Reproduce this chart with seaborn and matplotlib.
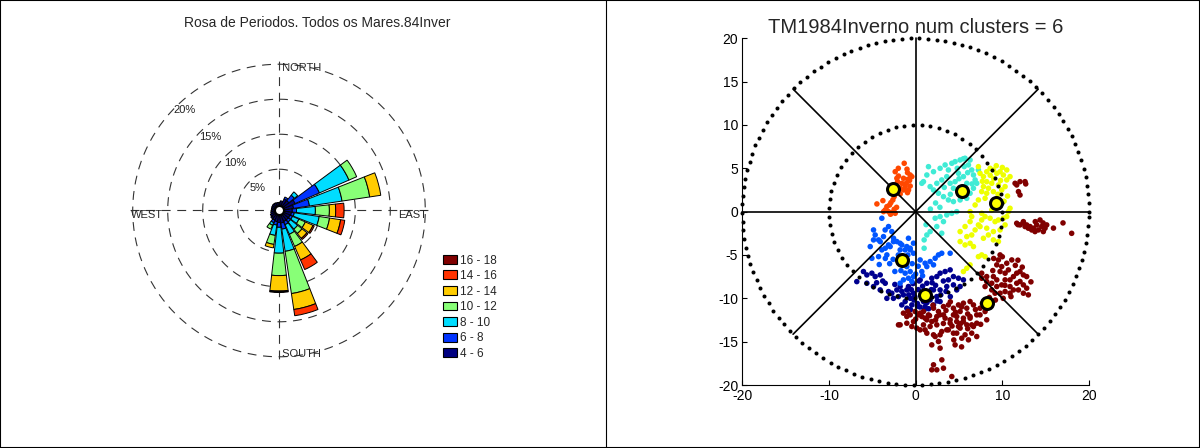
import numpy as np
import pandas as pd
import matplotlib
matplotlib.use("Agg")
import matplotlib.pyplot as plt
from matplotlib.patches import Patch, Rectangle
from matplotlib.lines import Line2D
import seaborn as sns

# ---------------- wind rose: % of records per 15 deg sector ----------------
directions = np.arange(0, 360, 15)
speed_labels = ["4 - 6", "6 - 8", "8 - 10", "10 - 12", "12 - 14", "14 - 16", "16 - 18"]
speed_colors = ["#000080", "#0033FF", "#00DDFF", "#88FF77", "#FFCC00", "#FF3300", "#800000"]

freq_4_6 = [0.25, 0.5, 0.9, 0.9, 1.6, 1.2, 1.0, 0.9, 0.8, 0.8, 0.8, 0.9,
            0.8, 0.7, 0.6, 0.4, 0.45, 0.3, 0.2, 0.2, 0.25, 0.3, 0.3, 0.25]
freq_6_8 = [0, 0, 0.3, 1.0, 3.8, 2.3, 0.6, 0.4, 0.4, 0.4, 0.5, 0.9,
            0.7, 0.5, 0.4, 0.2, 0, 0, 0, 0, 0, 0, 0, 0]
freq_8_10 = [0, 0, 0, 0.6, 4.6, 4.7, 2.7, 3.6, 1.0, 1.3, 1.5, 3.2,
             3.7, 1.5, 0.4, 0, 0, 0, 0, 0, 0, 0, 0, 0]
freq_10_12 = [0, 0, 0, 0, 1.2, 4.0, 2.0, 1.5, 1.0, 0.8, 1.9, 6.1,
              3.2, 1.3, 0.6, 0, 0, 0, 0, 0, 0, 0, 0, 0]
freq_12_14 = [0, 0, 0, 0, 0, 1.6, 0.9, 1.6, 1.2, 0.9, 2.1, 2.3,
              2.2, 0.5, 0, 0, 0, 0, 0, 0, 0, 0, 0, 0]
freq_14_16 = [0, 0, 0, 0, 0, 0, 1.2, 0.6, 0.2, 0.2, 1.5, 0.9,
              0.1, 0, 0, 0, 0, 0, 0, 0, 0, 0, 0, 0]
freq_16_18 = [0, 0, 0, 0, 0, 0, 0, 0, 0, 0, 0, 0,
              0.1, 0, 0, 0, 0, 0, 0, 0, 0, 0, 0, 0]
speed_freqs = [freq_4_6, freq_6_8, freq_8_10, freq_10_12, freq_12_14, freq_14_16, freq_16_18]
rings = [5, 10, 15, 20]

# ---------------- cluster scatter (x, y) ----------------
pts_orange = [(-1.32, 5.58), (-0.94, 4.50), (-0.63, 4.23), (-0.44, 4.04), (-0.90, 3.73),
              (-1.40, 3.85), (-1.98, 4.11), (-2.36, 4.61), (-2.09, 3.46), (-1.59, 3.27),
              (-1.09, 3.27), (-0.63, 2.96), (-0.94, 2.19), (-1.40, 2.50), (-1.78, 2.70),
              (-2.48, 1.73), (-2.63, 1.35), (-2.86, 1.04), (-3.01, 0.77), (-3.32, 0.58),
              (-3.51, 0.20), (-3.13, 0.00), (-2.75, -0.11), (-2.36, -0.19), (-2.48, 0.27),
              (-4.47, 0.89), (-3.78, 1.27), (-2.36, 2.12), (-2.17, 3.85), (-1.21, 2.89),
              (-0.82, 2.50), (-1.78, 2.04), (-2.00, 5.00), (-1.00, 4.90), (-0.70, 3.60),
              (-2.90, -0.30), (-2.20, 0.50), (-3.70, 0.00)]
pts_cyan = [(1.48, 5.19), (1.29, 4.23), (0.90, 3.46), (0.71, 3.27), (2.06, 4.61),
            (2.82, 5.00), (3.40, 5.39), (4.17, 5.58), (4.55, 5.77), (5.13, 5.96),
            (5.70, 6.16), (6.28, 5.96), (6.09, 5.39), (6.47, 4.81), (6.67, 4.23),
            (6.86, 3.66), (7.05, 3.27), (6.67, 2.70), (6.28, 2.12), (5.90, 1.54),
            (5.13, 1.35), (4.36, 1.16), (3.78, 1.35), (3.21, 1.73), (2.63, 2.12),
            (2.06, 2.50), (1.67, 2.89), (2.44, 3.27), (3.01, 3.66), (3.59, 4.04),
            (3.98, 3.27), (4.36, 2.70), (2.25, -0.76), (2.82, -0.57), (3.59, -0.38),
            (4.17, -0.19), (4.74, 0.00), (3.21, -1.15), (1.67, -2.30), (1.29, -2.69),
            (3.01, -2.49), (2.44, -1.72), (4.55, 3.46), (5.51, 4.04), (5.90, 3.27),
            (4.94, 4.42), (3.78, 4.81), (7.24, 4.81), (5.51, 2.50), (5.13, 1.92),
            (0.98, -4.22), (0.98, -3.26), (1.20, -1.50), (1.70, 0.30), (2.30, 1.00),
            (5.50, 6.10), (4.80, 5.00), (5.60, 5.20), (6.00, 4.50), (5.00, 3.80),
            (3.30, 2.80), (4.00, 2.00), (6.50, 3.20), (2.80, 0.50)]
pts_yellow = [(7.24, 5.19), (7.43, 4.42), (7.82, 4.04), (8.20, 4.61), (8.59, 5.00),
              (8.97, 4.81), (9.36, 4.42), (9.74, 4.61), (10.12, 4.23), (10.51, 3.66),
              (10.32, 2.89), (9.93, 2.50), (9.55, 3.08), (8.78, 3.27), (8.20, 3.46),
              (7.82, 2.89), (7.62, 2.31), (8.20, 2.12), (8.97, 2.31), (8.01, 1.54),
              (7.24, 1.35), (6.86, 0.77), (6.28, 0.00), (6.47, -0.57), (6.28, -1.15),
              (5.70, -1.72), (5.13, -2.30), (5.90, -2.88), (6.47, -2.69), (6.86, -2.11),
              (7.24, -1.53), (7.62, -0.96), (8.01, -0.57), (8.59, -0.76), (9.16, -1.15),
              (9.55, -0.96), (10.12, -0.76), (10.51, -0.57), (10.70, 0.00), (10.89, 0.39),
              (10.32, -1.53), (9.74, -2.11), (8.97, -2.30), (8.39, -2.69), (7.82, -3.07),
              (7.43, -1.72), (8.20, -1.91), (8.78, 0.20), (7.62, -0.19), (10.89, 4.04),
              (10.51, 4.81), (5.13, -3.45), (5.70, -3.84), (6.28, -3.65), (6.67, -4.03),
              (7.62, -4.99), (8.01, -5.19), (7.24, -5.19), (5.51, -6.91), (5.90, -6.53),
              (6.28, -6.14), (9.55, -3.45), (8.97, -3.26), (9.00, 3.80), (9.80, 3.60),
              (8.60, 4.20), (10.00, 5.10), (9.30, 5.30), (8.40, 2.70), (9.50, 2.00),
              (7.70, 3.50), (10.60, 1.80), (10.20, 1.20)]
pts_darkred = [(11.47, 3.27), (11.66, 3.08), (12.04, 3.46), (12.62, 3.46), (11.86, 2.31),
               (12.04, 1.92), (12.70, 3.20),
               (11.66, -1.34), (12.04, -1.53), (12.43, -1.15), (12.81, -1.53), (13.20, -1.72),
               (13.58, -1.91), (13.97, -1.53), (14.35, -0.96), (14.54, -1.72), (14.93, -1.91),
               (15.12, -1.53), (13.77, -2.30), (13.39, -2.11), (13.00, -1.91), (12.62, -1.72),
               (14.16, -2.11), (14.73, -2.30), (17.00, -1.30), (18.00, -2.50), (15.90, -1.90),
               (14.70, -1.30), (13.80, -1.15), (12.40, -1.30), (11.80, -1.50),
               (9.74, -4.99), (9.55, -5.57), (9.36, -6.14), (9.93, -6.34), (10.51, -5.95),
               (11.09, -5.57), (10.70, -6.72), (10.32, -7.10), (9.74, -6.91), (8.97, -7.49),
               (8.20, -7.49), (7.62, -7.68), (8.20, -8.06), (8.78, -8.26), (9.36, -8.64),
               (9.93, -8.45), (10.32, -7.87), (10.89, -7.87), (11.28, -7.49), (11.66, -7.10),
               (12.04, -6.91), (12.43, -7.30), (12.81, -7.49), (12.04, -8.06), (12.43, -8.45),
               (12.81, -8.83), (13.00, -9.60), (12.43, -9.41), (11.86, -9.03), (11.28, -9.03),
               (10.89, -9.41), (10.32, -9.22), (9.74, -9.41), (9.16, -9.41), (8.78, -9.03),
               (8.01, -8.64), (7.62, -7.10), (9.36, -7.87), (10.89, -8.64), (11.66, -8.26),
               (0.90, -11.52), (1.48, -11.91), (2.06, -11.14), (2.63, -11.52), (3.21, -10.95),
               (3.78, -10.76), (4.36, -11.14), (4.94, -10.76), (5.51, -10.56), (6.28, -10.37),
               (4.36, -11.91), (5.13, -11.52), (5.90, -11.14), (6.67, -10.76), (3.40, -12.29),
               (3.98, -12.87), (4.74, -12.68), (5.51, -12.29), (6.28, -12.10), (7.05, -11.91),
               (7.43, -11.14), (8.01, -11.52), (1.67, -13.25), (2.44, -13.06), (3.01, -13.83),
               (3.78, -13.64), (5.13, -13.44), (5.90, -13.06), (6.67, -13.25), (4.74, -14.02),
               (5.70, -14.21), (1.09, -13.64), (2.25, -14.41), (8.20, -12.48),
               (-1.41, -11.71), (-1.02, -12.10), (-0.63, -11.91), (-0.06, -11.52), (0.33, -11.91),
               (0.71, -12.10), (-1.79, -13.06), (-1.02, -12.87), (-0.44, -13.25), (0.13, -13.44),
               (-0.25, -12.68), (1.29, -12.48), (0.90, -13.06), (0.52, -13.64), (-1.98, -13.06),
               (0.52, -11.71), (1.09, -12.29), (1.86, -12.68), (2.44, -12.10), (3.21, -11.91),
               (3.98, -12.48), (4.74, -12.10), (5.51, -12.68), (6.28, -12.29), (7.05, -12.87),
               (4.94, -13.25), (6.47, -14.02), (7.05, -14.41), (6.09, -14.79), (5.32, -14.60),
               (4.36, -14.02), (3.59, -13.64), (2.82, -14.21), (2.06, -14.21), (1.29, -14.02),
               (1.86, -15.37), (2.63, -14.98), (2.82, -15.75), (3.02, -17.10), (2.06, -17.67),
               (1.86, -18.25), (2.44, -18.25), (3.21, -18.06), (4.17, -19.02), (7.43, -11.91),
               (6.47, -13.06), (4.55, -15.37), (5.30, -15.60), (4.40, -14.80),
               (2.00, -10.80), (2.80, -11.90), (3.50, -11.40), (4.00, -10.40), (4.60, -11.60),
               (5.30, -11.00), (6.00, -11.80), (6.90, -11.30), (7.70, -10.60), (3.20, -12.90),
               (4.20, -13.20), (5.20, -12.90), (6.00, -13.50), (7.50, -13.00), (2.30, -12.50),
               (1.60, -12.00), (0.00, -12.40), (-0.90, -11.50), (9.20, -10.20), (10.10, -10.00),
               (11.00, -9.80), (8.50, -9.90), (11.50, -6.20), (12.30, -6.40), (9.00, -5.40),
               (10.00, -5.20), (11.80, -5.60), (13.30, -8.10), (10.30, -8.50), (8.90, -6.80)]
pts_blue = [(-3.90, -0.76), (-3.13, -1.72), (-3.52, -2.11), (-2.75, -2.30), (-4.86, -2.11),
            (-4.67, -2.69), (-4.28, -3.26), (-3.71, -2.88), (-2.55, -3.07), (-2.17, -3.45),
            (-1.59, -3.84), (-1.21, -4.41), (-0.63, -4.22), (-0.83, -3.07), (-0.25, -3.64),
            (-1.79, -4.41), (-2.94, -4.03), (-3.90, -4.41), (-4.86, -3.26), (-5.24, -4.03),
            (-4.09, -3.46), (-3.50, -4.22), (-3.13, -3.84), (-2.56, -3.46), (-1.79, -3.65),
            (-1.02, -4.03), (-5.05, -5.38), (-4.28, -5.19), (-3.32, -4.99), (-1.02, -6.34),
            (-0.63, -6.91), (-1.21, -7.10), (-0.25, -7.49), (-0.83, -7.68), (-0.44, -8.06),
            (-1.79, -8.26), (-1.41, -7.87), (-1.02, -5.57), (-0.25, -4.80), (-0.63, -4.41),
            (0.52, -5.57), (1.09, -5.95), (1.67, -5.76), (2.25, -5.38), (2.63, -4.99),
            (3.01, -4.80), (2.06, -6.14), (1.29, -6.34), (0.71, -6.91), (3.98, -4.80),
            (-2.00, -5.00), (-2.60, -5.50), (-3.00, -6.00), (-0.90, -5.00), (-0.40, -6.00),
            (0.30, -6.30), (-1.70, -6.80), (-2.40, -6.90), (0.00, -7.20), (0.80, -7.40),
            (-3.50, -5.40), (-4.20, -6.10)]
pts_navy = [(-6.02, -6.91), (-6.79, -8.07), (-5.63, -7.30), (-5.05, -7.10), (-4.67, -7.49),
            (-5.63, -8.26), (-4.86, -8.64), (-4.09, -9.03), (-3.51, -8.26), (-2.75, -9.41),
            (-3.32, -10.00), (-2.17, -9.03), (-1.79, -8.64), (-1.98, -9.80), (-1.41, -9.60),
            (-1.02, -9.03), (-0.63, -10.00), (-1.21, -10.37), (-0.44, -10.76), (-0.83, -8.64),
            (-4.09, -7.30), (-3.13, -9.22), (-2.56, -10.00), (-1.60, -10.76), (-1.02, -11.14),
            (-0.25, -9.41), (0.52, -7.87), (1.29, -8.26), (1.86, -7.68), (2.44, -7.49),
            (2.82, -7.10), (3.40, -6.91), (3.98, -6.72), (4.36, -7.49), (4.94, -7.68),
            (5.51, -7.87), (5.13, -8.64), (4.36, -8.45), (3.59, -8.64), (2.82, -9.03),
            (2.06, -9.03), (1.29, -9.41), (2.44, -9.80), (1.67, -10.18), (0.90, -10.37),
            (2.06, -10.76), (1.09, -10.95), (2.82, -10.37), (3.78, -7.87), (4.74, -9.03),
            (0.30, -9.00), (0.60, -9.60), (-0.20, -10.20), (0.20, -10.60), (1.30, -10.50),
            (0.80, -8.60), (-0.50, -9.00), (1.80, -9.00), (0.50, -11.00), (1.50, -11.20),
            (-0.30, -8.30), (0.40, -8.00), (-0.80, -9.60), (-0.10, -9.80), (0.70, -10.00),
            (1.60, -9.80), (2.30, -8.50), (3.20, -8.00), (2.90, -9.60), (-1.60, -9.20),
            (-2.40, -8.40), (-3.80, -8.00), (-4.50, -8.20), (0.20, -10.90), (1.00, -11.30),
            (2.50, -10.30), (3.50, -9.20), (4.00, -9.80), (-0.60, -11.30), (1.90, -8.20)]
centers_x = [-2.63, 5.32, 9.28, -1.52, 1.13, 8.20]
centers_y = [2.61, 2.38, 0.96, -5.57, -9.60, -10.49]

cluster_points = {"navy": pts_navy, "blue": pts_blue, "cyan": pts_cyan,
                  "yellow": pts_yellow, "orange": pts_orange, "darkred": pts_darkred}
cluster_colors = {"navy": "#00008F", "blue": "#0055FF", "cyan": "#40EBD5",
                  "yellow": "#EEFF00", "orange": "#FF4800", "darkred": "#800000"}

sns.set_style("white")
plt.rcParams["font.family"] = ["Liberation Sans", "DejaVu Sans"]
plt.rcParams["axes.unicode_minus"] = False

W, H = 1200, 448
fig = plt.figure(figsize=(12, 4.48), dpi=100)

# ---------------- left: wind rose ----------------
cx, cy, R = 279, 210.5, 148.4       # centre and outer radius in pixels
ax1 = fig.add_axes([(cx - R) / W, 1 - (cy + R) / H, 2 * R / W, 2 * R / H], projection="polar")
ax1.set_theta_zero_location("N")
ax1.set_theta_direction(-1)
r_hole = -0.9
ax1.set_ylim(r_hole, 20.3)
ax1.grid(False)
ax1.set_xticks([])
ax1.set_yticks([])
ax1.spines["polar"].set_visible(False)
ax1.patch.set_alpha(0)

theta = np.deg2rad(directions)
width = np.deg2rad(13)
cum = np.zeros(len(directions))
base = -0.35
for freq, col in zip(speed_freqs, speed_colors):
    freq = np.array(freq, dtype=float)
    top = cum + freq
    bottom = np.where(cum == 0, base, cum)
    m = freq > 0
    ax1.bar(theta[m], (top - bottom)[m], width=width, bottom=bottom[m],
            color=col, edgecolor="black", linewidth=0.7, zorder=3)
    cum = top

tt = np.linspace(0, 2 * np.pi, 400)
for r in rings:
    ax1.plot(tt, np.full_like(tt, r), color="#333333", lw=0.8,
             linestyle=(0, (8, 6)), zorder=1)
for a in [0, 90, 180, 270]:
    ax1.plot([np.deg2rad(a)] * 2, [r_hole, 20.5], color="#333333", lw=0.8,
             linestyle=(0, (8, 6)), zorder=1, clip_on=False)
ax1.plot([0], [r_hole], "o", ms=6.5, mfc="white", mec="black", mew=1.5, zorder=5)

ring_lab_r = [3.5, 8.3, 13.5, 18.8]
for r, lr in zip(rings, ring_lab_r):
    ax1.text(np.deg2rad(317), lr, f"{r}%", fontsize=8, ha="center", va="center", color="#222222")

ax1.text(0, 20.2, " NORTH", fontsize=8, ha="left", va="top")
ax1.text(np.pi, 20.3, " SOUTH", fontsize=8, ha="left", va="bottom")
ax1.text(1.5 * np.pi, 20.3, "WEST", fontsize=8, ha="left", va="top")
ax1.text(0.5 * np.pi, 20.3, "EAST", fontsize=8, ha="right", va="top")

fig.text(317.5 / W, 1 - 23 / H, "Rosa de Periodos. Todos os Mares.84Inver",
         fontsize=10, ha="center", va="center")

handles = [Patch(facecolor=c, edgecolor="black", linewidth=0.8) for c in speed_colors][::-1]
fig.legend(handles, speed_labels[::-1], loc="upper left",
           bbox_to_anchor=(442.7 / W, 1 - 254.5 / H), frameon=False, fontsize=8.5,
           handlelength=1.2, handleheight=0.78, handletextpad=0.3,
           labelspacing=0.3, borderpad=0, borderaxespad=0)

# ---------------- right: clusters ----------------
ax2 = fig.add_axes([742.3 / W, 1 - 385 / H, 346.7 / W, 346.7 / H])
frames = [pd.DataFrame(pts, columns=["x", "y"]).assign(cluster=name)
          for name, pts in cluster_points.items()]
df = pd.concat(frames, ignore_index=True)
sns.scatterplot(data=df, x="x", y="y", hue="cluster", palette=cluster_colors,
                s=16, linewidth=0, legend=False, ax=ax2, zorder=1)

t_in = np.arange(0, 2 * np.pi, 0.1)
t_out = np.arange(0, 2 * np.pi, 0.05)
ax2.plot(10 * np.cos(t_in), 10 * np.sin(t_in), "o", color="black", ms=2.9, mew=0, zorder=2)
ax2.plot(20 * np.cos(t_out), 20 * np.sin(t_out), "o", color="black", ms=2.9, mew=0,
         zorder=2, clip_on=False)
for a in np.deg2rad([0, 45, 90, 135]):
    ax2.plot([-20 * np.cos(a), 20 * np.cos(a)], [-20 * np.sin(a), 20 * np.sin(a)],
             color="black", lw=1.2, zorder=2, clip_on=False)
ax2.plot(centers_x, centers_y, "o", ms=8.6, mfc="#FFFF00", mec="black", mew=2.2, zorder=4)

ax2.set_xlim(-20, 20)
ax2.set_ylim(-20, 20)
ax2.set_xticks([-20, -10, 0, 10, 20])
ax2.set_yticks(np.arange(-20, 21, 5))
ax2.set_xlabel("")
ax2.set_ylabel("")
ax2.tick_params(direction="in", length=3.5, width=0.8, labelsize=10, colors="black",
                pad=3, bottom=True, left=True)
for s in ["top", "right"]:
    ax2.spines[s].set_visible(False)
for s in ["left", "bottom"]:
    ax2.spines[s].set_color("black")
    ax2.spines[s].set_linewidth(0.8)
ax2.set_title("TM1984Inverno num clusters = 6", fontsize=14.5, pad=4)

# panel borders
fig.add_artist(Rectangle((0, 0), 1, 1, transform=fig.transFigure, fill=False,
                         edgecolor="black", linewidth=1.5))
fig.add_artist(Line2D([605.5 / W, 605.5 / W], [0, 1], transform=fig.transFigure,
                      color="black", linewidth=0.8))

fig.savefig("out.png", dpi=100)
plt.close(fig)
